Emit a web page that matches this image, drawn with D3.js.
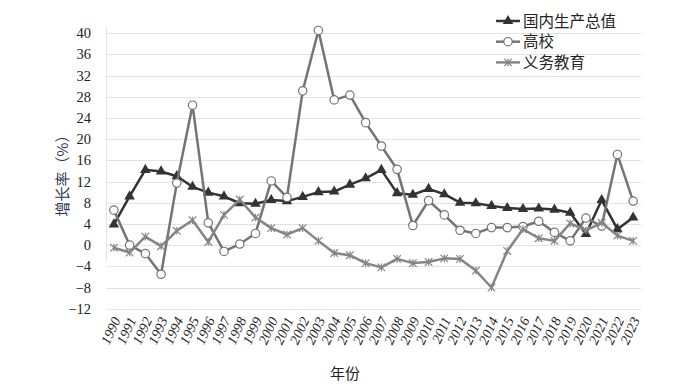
<!DOCTYPE html>
<html>
<head>
<meta charset="utf-8">
<script src="https://cdn.jsdelivr.net/npm/d3@7"></script>
<style>
  body { margin: 0; background: #fff; }
  svg { display: block; }
</style>
</head>
<body>
<div id="chart"></div>
<script>
var years = d3.range(1990, 2024);
var yTicks = [40, 36, 32, 28, 24, 20, 16, 12, 8, 4, 0, -4, -8, -12];
var seriesNames = ["国内生产总值", "高校", "义务教育"];

var gdp = [3.9, 9.2, 14.2, 13.9, 13.0, 11.0, 9.9, 9.2, 7.9, 7.8, 8.5, 8.3, 9.1, 10.0, 10.1, 11.4, 12.6, 14.2,
  9.8, 9.5, 10.6, 9.6, 8.0, 7.9, 7.4, 7.0, 6.8, 6.9, 6.7, 6.1, 2.1, 8.5, 3.0, 5.2];
var highEdu = [6.6, 0.0, -1.6, -5.5, 11.7, 26.4, 4.2, -1.2, 0.2, 2.2, 12.1, 9.0, 29.1, 40.5, 27.4, 28.3, 23.1, 18.7,
  14.3, 3.7, 8.4, 5.7, 2.8, 2.2, 3.3, 3.3, 3.5, 4.5, 2.4, 0.8, 5.1, 3.6, 17.1, 8.3];
var compulsory = [-0.5, -1.4, 1.6, -0.2, 2.7, 4.7, 0.6, 5.7, 8.6, 5.2, 3.2, 2.0, 3.2, 0.8, -1.5, -1.9, -3.4, -4.2,
  -2.6, -3.4, -3.2, -2.5, -2.6, -4.8, -8.0, -1.1, 3.0, 1.3, 0.8, 4.1, 2.8, 4.2, 1.8, 0.8];

var width = 686, height = 387;
var plotLeft = 106, plotRight = 641, plotTop = 33.1, plotBottom = 308.7;
var serif = "'Liberation Serif','Times New Roman',serif";
var cjk = "'Noto Sans CJK SC','Noto Sans CJK JP',sans-serif";

var svg = d3.select("#chart").append("svg").attr("width", width).attr("height", height);

var x = d3.scaleBand().domain(years).range([plotLeft, plotRight]);
var y = d3.scaleLinear().domain([-12, 40]).range([plotBottom, plotTop]);
var cx = function(i) { return x(years[i]) + x.bandwidth() / 2; };

// grid
var grid = svg.append("g").attr("transform", "translate(" + plotLeft + ",0)")
  .call(d3.axisLeft(y).tickValues(yTicks).tickSize(-(plotRight - plotLeft)).tickFormat(""));
grid.select(".domain").remove();
grid.selectAll("line").attr("stroke", "#e3e3e3").attr("stroke-width", 1).style("shape-rendering", "crispEdges");

svg.append("line")
  .attr("x1", plotLeft).attr("x2", plotLeft).attr("y1", 27).attr("y2", 262)
  .attr("stroke", "#e3e3e3").style("shape-rendering", "crispEdges");

// y axis labels
var yAxis = svg.append("g").attr("transform", "translate(" + (plotLeft - 12) + ",0)")
  .call(d3.axisLeft(y).tickValues(yTicks).tickSize(0)
    .tickFormat(function(d) { return d < 0 ? "\u2212" + Math.abs(d) : d; }));
yAxis.select(".domain").remove();
yAxis.selectAll("text").attr("font-family", serif).attr("font-size", "14.5px").attr("fill", "#222").attr("dx", 0);

// x axis labels
svg.append("g").selectAll("text").data(years).enter().append("text")
  .attr("transform", function(d, i) { return "translate(" + (cx(i) + 7) + ",320) rotate(-65)"; })
  .attr("text-anchor", "end")
  .attr("font-family", serif).attr("font-style", "italic").attr("font-size", "14px").attr("fill", "#222")
  .text(function(d) { return d; });

svg.append("text").attr("x", 345).attr("y", 379).attr("text-anchor", "middle")
  .attr("font-family", cjk).attr("font-size", "15px").attr("fill", "#222").text("年份");

svg.append("text").attr("transform", "translate(68,172) rotate(-90)").attr("text-anchor", "middle")
  .attr("font-family", cjk).attr("font-size", "15px").attr("fill", "#2e3a55").text("增长率（%）");

// lines
var line = d3.line().x(function(d, i) { return cx(i); }).y(function(d) { return y(d); });

function drawMarker(g, type, px, py, color) {
  if (type == "tri") {
    g.append("path").attr("d", d3.symbol().type(d3.symbolTriangle).size(48)())
      .attr("transform", "translate(" + px + "," + py + ")").attr("fill", color);
  } else if (type == "circle") {
    g.append("circle").attr("cx", px).attr("cy", py).attr("r", 4.2)
      .attr("fill", "#fff").attr("stroke", color).attr("stroke-width", 1.2);
  } else {
    var s = 3.8;
    g.append("path")
      .attr("d", "M" + (px - s) + "," + (py - s) + "L" + (px + s) + "," + (py + s) +
        "M" + (px - s) + "," + (py + s) + "L" + (px + s) + "," + (py - s) +
        "M" + px + "," + (py - s) + "L" + px + "," + (py + s))
      .attr("stroke", color).attr("stroke-width", 1.2).attr("fill", "none");
  }
}

var series = [
  { name: seriesNames[0], data: gdp, color: "#333333", marker: "tri" },
  { name: seriesNames[1], data: highEdu, color: "#747474", marker: "circle" },
  { name: seriesNames[2], data: compulsory, color: "#858585", marker: "star" }
];

series.forEach(function(s) {
  var g = svg.append("g");
  g.append("path").attr("d", line(s.data)).attr("fill", "none")
    .attr("stroke", s.color).attr("stroke-width", 2.5).attr("stroke-linejoin", "round");
  s.data.forEach(function(v, i) { drawMarker(g, s.marker, cx(i), y(v), s.color); });
});

// legend
var legend = svg.append("g");
series.forEach(function(s, i) {
  var ly = 21 + i * 20.7;
  legend.append("line").attr("x1", 496).attr("x2", 520).attr("y1", ly).attr("y2", ly)
    .attr("stroke", s.color).attr("stroke-width", 2.5);
  drawMarker(legend, s.marker, 508, ly, s.color);
  legend.append("text").attr("x", 523).attr("y", ly + 5.5)
    .attr("font-family", cjk).attr("font-size", "15.5px").attr("fill", "#222").text(s.name);
});
</script>
</body>
</html>
